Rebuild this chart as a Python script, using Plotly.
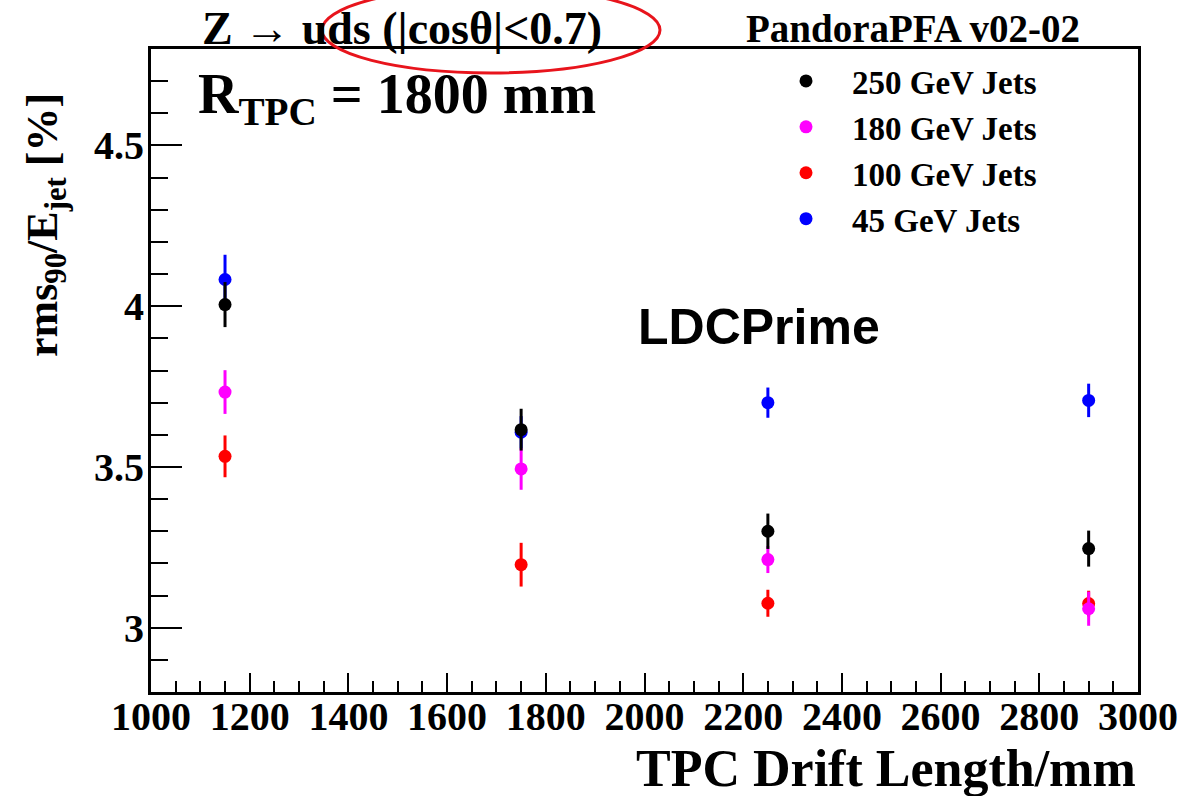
import plotly.graph_objects as go

# ---------------- data ----------------
drift_length = [1150, 1750, 2250, 2900]

series_names = ["250 GeV Jets", "180 GeV Jets", "100 GeV Jets", "45 GeV Jets"]
res_250 = [4.005, 3.616, 3.300, 3.246]
err_250 = [0.070, 0.065, 0.055, 0.056]
res_180 = [3.733, 3.494, 3.212, 3.059]
err_180 = [0.068, 0.065, 0.042, 0.053]
res_100 = [3.533, 3.196, 3.076, 3.075]
err_100 = [0.065, 0.068, 0.042, 0.040]
res_45 = [4.083, 3.608, 3.700, 3.707]
err_45 = [0.077, 0.050, 0.047, 0.052]

x_tick_vals = [1000, 1200, 1400, 1600, 1800, 2000, 2200, 2400, 2600, 2800, 3000]
y_tick_vals = [3, 3.5, 4, 4.5]
y_tick_text = ["3", "3.5", "4", "4.5"]

# ---------------- layout geometry ----------------
W, H = 1188, 796
L, R, T, B = 151, 50, 49, 104
PW, PH = W - L - R, H - T - B


def px(xp):
    return (xp - L) / PW


def py(yp):
    return (H - B - yp) / PH


SERIF = "Liberation Serif"

fig = go.Figure()

# drawing order: blue, red, magenta, black (legend order set by legendrank)
traces = [
    (series_names[3], res_45, err_45, "#0000ff", 4),
    (series_names[2], res_100, err_100, "#ff0000", 3),
    (series_names[1], res_180, err_180, "#ff00ff", 2),
    (series_names[0], res_250, err_250, "#000000", 1),
]
for name, yv, ev, col, rank in traces:
    fig.add_trace(go.Scatter(
        x=drift_length, y=yv, name=name, mode="markers",
        marker=dict(color=col, size=13, line=dict(width=0)),
        error_y=dict(type="data", array=ev, visible=True, color=col,
                     thickness=3, width=0),
        legendrank=rank,
    ))

fig.update_layout(
    width=W, height=H,
    margin=dict(l=L, r=R, t=T, b=B, autoexpand=False),
    paper_bgcolor="white", plot_bgcolor="white",
    showlegend=True,
    legend=dict(
        x=px(760), y=py(53), xanchor="left", yanchor="top",
        bgcolor="rgba(0,0,0,0)", borderwidth=0,
        font=dict(family=SERIF, size=33, color="black", weight="bold"),
        itemwidth=82, traceorder="normal",
    ),
    xaxis=dict(
        range=[1000, 3000], tickmode="array", tickvals=x_tick_vals,
        ticks="inside", ticklen=19, tickwidth=2, tickcolor="black",
        minor=dict(dtick=50, tick0=1000, ticks="inside", ticklen=11,
                   tickwidth=2, tickcolor="black", showgrid=False),
        showline=True, linewidth=3, linecolor="black", mirror=True,
        showgrid=False, zeroline=False,
        ticklabelstandoff=-13,
        tickfont=dict(family=SERIF, size=40, color="black", weight="bold"),
    ),
    yaxis=dict(
        range=[2.8, 4.8], tickmode="array", tickvals=y_tick_vals,
        ticktext=y_tick_text,
        ticks="inside", ticklen=31, tickwidth=2, tickcolor="black",
        minor=dict(dtick=0.1, tick0=2.8, ticks="inside", ticklen=17,
                   tickwidth=2, tickcolor="black", showgrid=False),
        showline=True, linewidth=3, linecolor="black", mirror=True,
        showgrid=False, zeroline=False,
        ticklabelstandoff=-4,
        tickfont=dict(family=SERIF, size=40, color="black", weight="bold"),
    ),
)

annos = [
    dict(text="Z \u2192 uds (|cos\u03b8|<0.7)", x=px(200), y=py(28),
         xanchor="left", yanchor="middle",
         font=dict(family=SERIF, size=46, color="black", weight="bold")),
    dict(text="PandoraPFA v02-02", x=px(744), y=py(29),
         xanchor="left", yanchor="middle",
         font=dict(family=SERIF, size=39, color="black", weight="bold")),
    dict(text="R<sub>TPC</sub> = 1800 mm", x=px(196), y=py(98),
         xanchor="left", yanchor="middle",
         font=dict(family=SERIF, size=56, color="black", weight="bold")),
    dict(text="LDCPrime", x=px(759), y=py(327),
         xanchor="center", yanchor="middle",
         font=dict(family="Liberation Sans", size=50, color="black", weight="bold")),
    dict(text="TPC Drift Length/mm", x=px(1138), y=py(768),
         xanchor="right", yanchor="middle",
         font=dict(family=SERIF, size=52, color="black", weight="bold")),
    dict(text="rms<sub>90</sub>/E<sub>jet</sub> [%]", x=px(45), y=py(225),
         xanchor="center", yanchor="middle", textangle=-90,
         font=dict(family=SERIF, size=44, color="black", weight="bold")),
]
for a in annos:
    fig.add_annotation(xref="paper", yref="paper", showarrow=False, **a)

# red hand-drawn style ellipse highlighting the cos(theta) cut
fig.add_shape(type="circle", xref="paper", yref="paper",
              x0=px(322), x1=px(660), y0=py(73), y1=py(-13),
              line=dict(color="#e8141c", width=3), fillcolor="rgba(0,0,0,0)")

fig.write_html("out.html")
